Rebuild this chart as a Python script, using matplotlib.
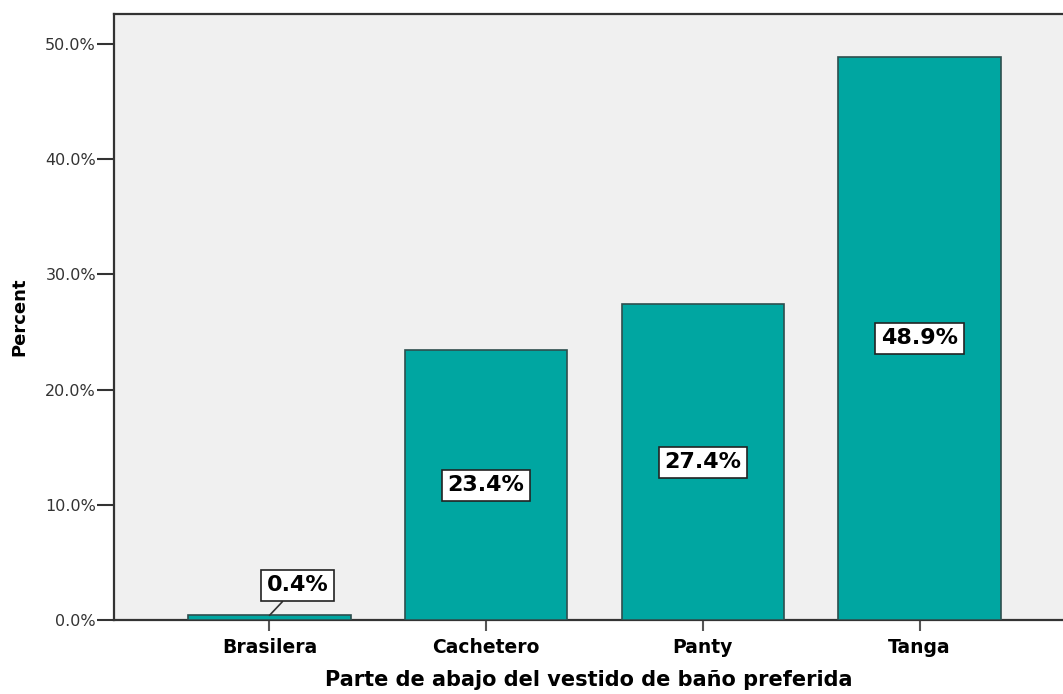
import matplotlib
matplotlib.use("Agg")
import matplotlib.pyplot as plt
from matplotlib.ticker import FuncFormatter, MultipleLocator

categories = ["Brasilera", "Cachetero", "Panty", "Tanga"]
percent = [0.4, 23.4, 27.4, 48.9]

bar_color = "#00A6A1"
edge_color = "#2E4F4E"
panel_color = "#F0F0F0"

plt.rcParams["font.family"] = ["DejaVu Sans"]

fig = plt.figure(figsize=(10.63, 6.94), dpi=100)
W, H = 1063, 694
ax = fig.add_axes([114 / W, 1 - 620 / H, (W - 114) / W, (620 - 14) / H])
ax.set_facecolor(panel_color)

x = list(range(len(categories)))
ax.bar(x, percent, width=0.75, color=bar_color, edgecolor=edge_color,
       linewidth=1.2, zorder=3)

ax.set_xlim(-0.7176, 3.662)
ax.set_ylim(0, 52.6)
ax.yaxis.set_major_locator(MultipleLocator(10))
ax.yaxis.set_major_formatter(FuncFormatter(lambda v, p: f"{v:.1f}%"))
ax.set_xticks(x)
ax.set_xticklabels(categories, fontweight="bold", fontsize=13.5)

ax.tick_params(axis="y", length=12, width=1.5, color="#333333",
               labelsize=11.5, labelcolor="#333333", pad=1)
ax.tick_params(axis="x", length=8, width=1.5, color="#555555", pad=5)

ax.spines["right"].set_visible(False)
for side in ["left", "top", "bottom"]:
    ax.spines[side].set_linewidth(1.6)
    ax.spines[side].set_color("#333333")

ax.set_ylabel("Percent", fontweight="bold", fontsize=13, labelpad=12)
ax.set_xlabel("Parte de abajo del vestido de baño preferida",
              fontweight="bold", fontsize=15, labelpad=9)

box = dict(boxstyle="square,pad=0.25", facecolor="white",
           edgecolor="#222222", linewidth=1.2)
for xi, v in zip(x, percent):
    label = f"{v:.1f}%"
    if v < 5:
        ax.annotate(label, xy=(xi, v), xytext=(xi + 0.13, 3.0),
                    ha="center", va="center", fontsize=16, fontweight="bold",
                    bbox=box, zorder=5,
                    arrowprops=dict(arrowstyle="-", color="#333333", lw=1.2,
                                    shrinkA=0, shrinkB=0))
    else:
        ax.text(xi, v / 2, label, ha="center", va="center", fontsize=16,
                fontweight="bold", bbox=box, zorder=5)

fig.savefig("out.png", dpi=100, facecolor="white")
